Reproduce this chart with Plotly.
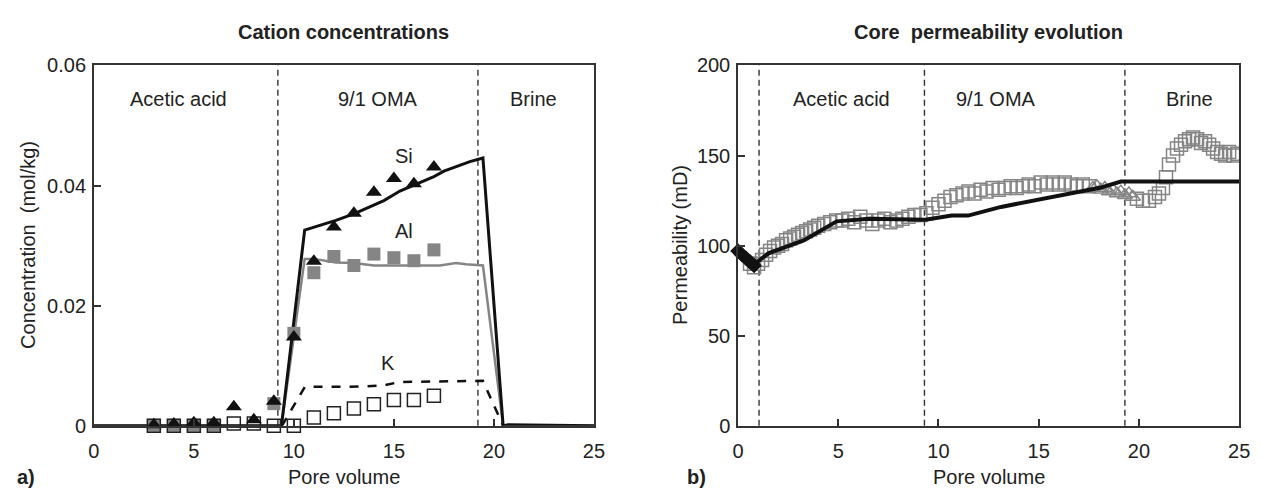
import plotly.graph_objects as go

# ---------------- data: panel a) cation concentrations ----------------
pv_meas = [3, 4, 5, 6, 7, 8, 9, 10, 11, 12, 13, 14, 15, 16, 17]
si_meas = [0.0002, 0.0003, 0.0005, 0.0005, 0.0032, 0.0010, 0.0041, 0.0148, 0.0274,
           0.0331, 0.0354, 0.0389, 0.0412, 0.0403, 0.0431]
al_meas = [0.0001, 0.0001, 0.0001, 0.0001, None, None, 0.0037, 0.0154, 0.0255,
           0.0282, 0.0267, 0.0286, 0.0280, 0.0275, 0.0293]
k_meas = [0.0, 0.0, 0.0, 0.0, 0.0004, 0.0004, 0.0, 0.0, 0.0014,
          0.0021, 0.0029, 0.0036, 0.0043, 0.0043, 0.0050]

si_model_x = [0, 9.38, 10.54, 12.1, 13.0, 14.5, 15.3, 17.0, 17.5, 18.8, 19.45, 20.46, 20.7, 25]
si_model_y = [0, 0, 0.0326, 0.0342, 0.0353, 0.0375, 0.0391, 0.0415, 0.0424, 0.0440, 0.0446, 0.0, 0.0002, 0.0]
al_model_x = [0, 9.38, 10.54, 11.0, 12.1, 13.0, 14.0, 16.0, 17.3, 18.1, 18.6, 19.45, 20.46, 25]
al_model_y = [0, 0, 0.0278, 0.0278, 0.0272, 0.0271, 0.0267, 0.0267, 0.0267, 0.0271, 0.0269, 0.0267, 0.0, 0.0]
k_model_x = [9.4, 10.55, 12.7, 14.4, 15.3, 17.3, 19.45, 20.46]
k_model_y = [0.0, 0.0065, 0.0065, 0.0067, 0.0073, 0.0074, 0.0075, 0.0]

# ---------------- data: panel b) permeability ----------------
perm_init_x = [0.0, 0.2, 0.4, 0.6, 0.8]
perm_init_y = [97, 95, 93, 91, 89]

perm_sq_x = [0.6, 0.8, 1.0, 1.2, 1.4, 1.6, 1.8, 2.0, 2.2, 2.4, 2.6, 2.8, 3.0, 3.2, 3.4,
             3.6, 3.8, 4.0, 4.3, 4.6, 4.9, 5.2, 5.5, 5.8, 6.1, 6.4, 6.7, 7.0, 7.3, 7.6,
             7.9, 8.2, 8.5, 8.8, 9.1, 9.4, 9.7, 10.0, 10.3, 10.6, 10.9, 11.2, 11.5, 11.8,
             12.1, 12.4, 12.7, 13.0, 13.3, 13.6, 13.9, 14.2, 14.5, 14.8, 15.1, 15.4, 15.7,
             16.0, 16.3, 16.6, 16.9, 17.2, 17.5,
             19.9, 20.2, 20.5, 20.8, 21.0, 21.2, 21.35, 21.5, 21.7, 21.9, 22.1, 22.3, 22.5,
             22.7, 22.9, 23.1, 23.3, 23.5, 23.7, 23.9, 24.1, 24.3, 24.5, 24.7, 24.9]
perm_sq_y = [90, 88, 90, 92, 95, 97, 99, 100, 101, 103, 104, 105, 106, 107, 108,
             109, 110, 111, 112, 113, 114, 114, 115, 113, 116, 114, 112, 114, 115, 113,
             114, 115, 116, 117, 117, 118, 121, 123, 125, 127, 128, 129, 130, 129,
             131, 130, 132, 131, 132, 133, 132, 133, 134, 133, 135, 134, 135,
             134, 135, 134, 133, 134, 133,
             126, 125, 125, 127, 129, 132, 138, 145, 150, 154, 156, 158, 159,
             160, 159, 157, 158, 156, 154, 152, 151, 150, 152, 150, 151]
perm_tri_x = [17.7, 17.9, 18.1, 18.3, 18.5, 18.7, 18.9, 19.1, 19.3, 19.5, 19.7]
perm_tri_y = [132, 133, 131, 132, 130, 131, 129, 130, 128, 129, 127]

perm_model_x = [0.89, 1.54, 3.28, 4.92, 6.56, 9.35, 10.66, 11.48, 13.12, 14.76, 15.6, 16.9, 18.05, 19.1, 25]
perm_model_y = [90.5, 95.9, 102.9, 113.5, 115.0, 114.4, 116.7, 116.7, 121.5, 125.0, 126.8, 129.8, 132.1, 135.6, 135.6]

stage_bounds_a = [9.2, 19.2]
stage_bounds_b = [1.05, 9.3, 19.3]
stage_labels = ["Acetic acid", "9/1 OMA", "Brine"]
stage_x_a = [4.24, 14.2, 22.0]
stage_x_b = [5.15, 12.85, 22.5]
ion_labels = ["Si", "Al", "K"]
ion_x = [15.5, 15.5, 14.7]
ion_y = [0.0449, 0.0325, 0.0105]

x_ticks = [0, 5, 10, 15, 20, 25]
ya_ticks = [0, 0.02, 0.04, 0.06]
ya_ticktext = ["0", "0.02", "0.04", "0.06"]
yb_ticks = [0, 50, 100, 150, 200]

# ---------------- figure ----------------
W, H = 1262, 499
FONT = "Liberation Sans, Arial, Helvetica, sans-serif"
TXT = "#222222"
GRAY = "#858585"

fig = go.Figure()

# panel a lines
fig.add_trace(go.Scatter(x=al_model_x, y=al_model_y, mode="lines",
                         line=dict(color=GRAY, width=2.5), xaxis="x", yaxis="y"))
fig.add_trace(go.Scatter(x=si_model_x, y=si_model_y, mode="lines",
                         line=dict(color="#111111", width=3), xaxis="x", yaxis="y"))
fig.add_trace(go.Scatter(x=k_model_x, y=k_model_y, mode="lines",
                         line=dict(color="#111111", width=2.5, dash="dash"), xaxis="x", yaxis="y"))
# panel a markers
fig.add_trace(go.Scatter(x=pv_meas, y=al_meas, mode="markers", cliponaxis=False,
                         marker=dict(symbol="square", size=13, color=GRAY, line=dict(width=0)),
                         xaxis="x", yaxis="y"))
fig.add_trace(go.Scatter(x=pv_meas, y=k_meas, mode="markers", cliponaxis=False,
                         marker=dict(symbol="square-open", size=13, color="#222222", line=dict(width=1.5)),
                         xaxis="x", yaxis="y"))
fig.add_trace(go.Scatter(x=pv_meas, y=si_meas, mode="markers", cliponaxis=False,
                         marker=dict(symbol="triangle-up", size=14, color="#111111", line=dict(width=0)),
                         xaxis="x", yaxis="y"))

# panel b
fig.add_trace(go.Scatter(x=perm_sq_x, y=perm_sq_y, mode="markers",
                         marker=dict(symbol="square-open", size=13, color=GRAY, line=dict(width=1.5)),
                         xaxis="x2", yaxis="y2"))
fig.add_trace(go.Scatter(x=perm_tri_x, y=perm_tri_y, mode="markers",
                         marker=dict(symbol="triangle-up-open", size=13, color=GRAY, line=dict(width=1.5)),
                         xaxis="x2", yaxis="y2"))
fig.add_trace(go.Scatter(x=perm_model_x, y=perm_model_y, mode="lines",
                         line=dict(color="#111111", width=4), xaxis="x2", yaxis="y2"))
fig.add_trace(go.Scatter(x=perm_init_x, y=perm_init_y, mode="markers", cliponaxis=False,
                         marker=dict(symbol="diamond", size=12, color="#111111"),
                         xaxis="x2", yaxis="y2"))

shapes = []
for xv in stage_bounds_a:
    shapes.append(dict(type="line", xref="x", yref="y domain", x0=xv, x1=xv, y0=0, y1=1,
                       line=dict(color="#333333", width=1.4, dash="6px,4px"), layer="below"))
for xv in stage_bounds_b:
    shapes.append(dict(type="line", xref="x2", yref="y2 domain", x0=xv, x1=xv, y0=0, y1=1,
                       line=dict(color="#333333", width=1.4, dash="6px,4px"), layer="below"))

ann = []
for lab, xv in zip(stage_labels, stage_x_a):
    ann.append(dict(x=xv, y=0.0545, xref="x", yref="y", text=lab, showarrow=False,
                    xanchor="center", yanchor="middle", font=dict(size=20, color=TXT)))
for lab, xv in zip(stage_labels, stage_x_b):
    ann.append(dict(x=xv, y=181.5, xref="x2", yref="y2", text=lab, showarrow=False,
                    xanchor="center", yanchor="middle", font=dict(size=20, color=TXT)))
for lab, xv, yv in zip(ion_labels, ion_x, ion_y):
    ann.append(dict(x=xv, y=yv, xref="x", yref="y", text=lab, showarrow=False,
                    xanchor="center", yanchor="middle", font=dict(size=20, color=TXT)))

def px(xp):
    return xp / W

def py(yp):
    return 1 - yp / H

def paper_text(x, y, text, angle=0):
    return dict(x=px(x), y=py(y), xref="paper", yref="paper", text=text, showarrow=False,
                xanchor="center", yanchor="middle", textangle=angle,
                font=dict(size=20, color=TXT))

ann += [
    paper_text(342.5, 22, "<b>Cation concentrations</b>"),
    paper_text(996, 22, "<b>Core  permeability evolution</b>"),
    paper_text(342.5, 488, "Pore volume"),
    paper_text(996, 488, "Pore volume"),
    paper_text(23, 245, "Concentration  (mol/kg)", -90),
    paper_text(683, 245, "Permeability (mD)", -90),
    paper_text(20, 488, "<b>a)</b>"),
    paper_text(700, 488, "<b>b)</b>"),
]

axis_common = dict(showline=True, linecolor="#333333", linewidth=1.5, mirror=True,
                   ticks="inside", ticklen=7, tickwidth=1.5, tickcolor="#333333",
                   showgrid=False, zeroline=False, tickfont=dict(size=20, color=TXT))

fig.update_layout(
    width=W, height=H, margin=dict(l=0, r=0, t=0, b=0),
    paper_bgcolor="white", plot_bgcolor="white", showlegend=False,
    font=dict(family=FONT, size=20, color=TXT),
    xaxis=dict(domain=[px(89), px(596)], range=[0, 25], tickvals=x_ticks,
               anchor="y", ticklabelstandoff=6, **axis_common),
    yaxis=dict(domain=[py(434), py(57)], range=[0, 0.06], tickvals=ya_ticks,
               ticktext=ya_ticktext, anchor="x", ticklabelstandoff=2, **axis_common),
    xaxis2=dict(domain=[px(742), px(1250)], range=[0, 25], tickvals=x_ticks,
                anchor="y2", ticklabelstandoff=6, **axis_common),
    yaxis2=dict(domain=[py(434), py(57)], range=[0, 200], tickvals=yb_ticks,
                anchor="x2", ticklabelstandoff=2, **axis_common),
    shapes=shapes, annotations=ann,
)

fig.write_html("out.html")
